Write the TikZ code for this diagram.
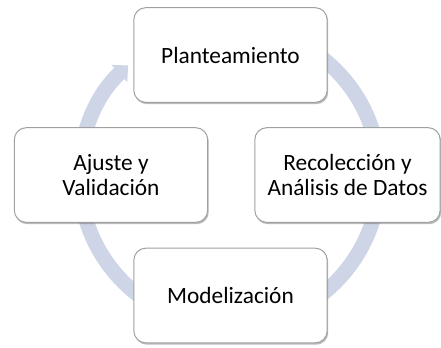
\documentclass[tikz,border=0pt]{standalone}
\usepackage{fontspec}
\setmainfont{Carlito}
\usetikzlibrary{arrows.meta,shadows}

\definecolor{ringblue}{RGB}{205,213,230}
\definecolor{boxline}{RGB}{160,160,160}

\tikzset{
  stage/.style={draw=boxline, line width=0.75pt, fill=white, rounded corners=9pt,
    minimum width=145pt, minimum height=71pt, align=center, inner sep=2pt,
    font=\fontsize{17.5}{19}\selectfont,
    drop shadow={shadow xshift=0.8pt, shadow yshift=-1.4pt, opacity=0.45, fill=black!60}},
}

\begin{document}
\begin{tikzpicture}[x=0.75pt,y=0.75pt,yscale=-1,xscale=1]
\useasboundingbox (0,0) rectangle (441,347);

%Shape: Circular arrow
\draw [ringblue, line width=11.25pt, -{Triangle[width=17pt,length=9pt]}]
  (229.5,176) ++(-100:150) arc [start angle=-100, end angle=227.5, radius=150];

% Stage Nodes
\node (plant) [stage] at (230.5,55) {Planteamiento};
\node (recol) [stage, minimum width=139pt] at (347.5,175) {Recolección y\\Análisis de Datos};
\node (model) [stage] at (230.5,295.5) {Modelización};
\node (ajust) [stage] at (111,175) {Ajuste y\\Validación};

\end{tikzpicture}
\end{document}
